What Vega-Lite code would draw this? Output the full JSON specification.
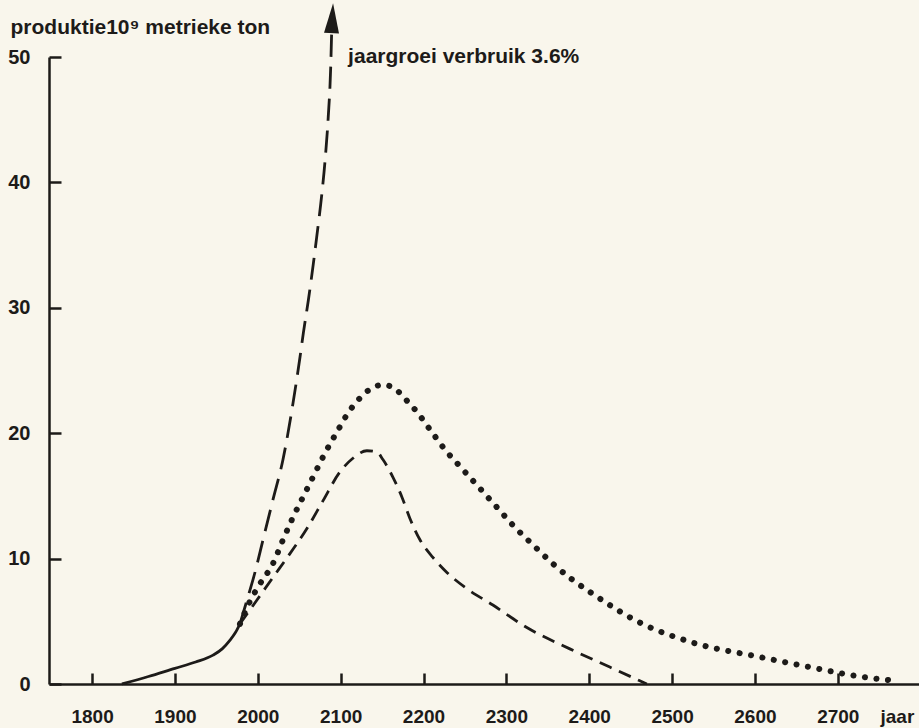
{
  "$schema": "https://vega.github.io/schema/vega-lite/v6.json",
  "width": 870,
  "height": 627,
  "autosize": "none",
  "padding": {"left": 49, "top": 57, "right": 0, "bottom": 44},
  "background": "#f9f6ec",
  "config": {"view": {"stroke": null}, "font": "Liberation Sans"},
  "datasets": {
    "curves": [
      {"series": "solid", "year": 1836, "value": 0},
      {"series": "solid", "year": 1868, "value": 0.6},
      {"series": "solid", "year": 1900, "value": 1.25},
      {"series": "solid", "year": 1925, "value": 1.75},
      {"series": "solid", "year": 1946, "value": 2.3},
      {"series": "solid", "year": 1957, "value": 2.8},
      {"series": "solid", "year": 1966.5, "value": 3.5},
      {"series": "solid", "year": 1973, "value": 4.1},
      {"series": "solid", "year": 1978.5, "value": 4.8},

      {"series": "exp", "year": 1978.5, "value": 4.8},
      {"series": "exp", "year": 1987, "value": 6.7},
      {"series": "exp", "year": 1997, "value": 9.0},
      {"series": "exp", "year": 2006.3, "value": 11.5},
      {"series": "exp", "year": 2018.3, "value": 14.7},
      {"series": "exp", "year": 2030.4, "value": 17.9},
      {"series": "exp", "year": 2042.5, "value": 22.4},
      {"series": "exp", "year": 2051, "value": 26.1},
      {"series": "exp", "year": 2055, "value": 28.0},
      {"series": "exp", "year": 2061, "value": 30.6},
      {"series": "exp", "year": 2067, "value": 33.5},
      {"series": "exp", "year": 2071, "value": 35.6},
      {"series": "exp", "year": 2077, "value": 38.9},
      {"series": "exp", "year": 2081, "value": 41.6},
      {"series": "exp", "year": 2085, "value": 45.2},
      {"series": "exp", "year": 2088, "value": 49.2},
      {"series": "exp", "year": 2089.1, "value": 51.9},

      {"series": "low", "year": 1978.5, "value": 4.8},
      {"series": "low", "year": 1999, "value": 6.7},
      {"series": "low", "year": 2018.3, "value": 8.5},
      {"series": "low", "year": 2038.8, "value": 10.4},
      {"series": "low", "year": 2059.3, "value": 12.4},
      {"series": "low", "year": 2078.6, "value": 14.6},
      {"series": "low", "year": 2099, "value": 16.9},
      {"series": "low", "year": 2114.8, "value": 18.0},
      {"series": "low", "year": 2131.7, "value": 18.6},
      {"series": "low", "year": 2143.8, "value": 18.5},
      {"series": "low", "year": 2151, "value": 17.9},
      {"series": "low", "year": 2163, "value": 16.5},
      {"series": "low", "year": 2174, "value": 14.9},
      {"series": "low", "year": 2183.6, "value": 13.2},
      {"series": "low", "year": 2195.7, "value": 11.5},
      {"series": "low", "year": 2211.3, "value": 10.1},
      {"series": "low", "year": 2228.2, "value": 8.9},
      {"series": "low", "year": 2252.4, "value": 7.6},
      {"series": "low", "year": 2283.7, "value": 6.3},
      {"series": "low", "year": 2324.7, "value": 4.5},
      {"series": "low", "year": 2376.6, "value": 2.8},
      {"series": "low", "year": 2424.8, "value": 1.35},
      {"series": "low", "year": 2469.5, "value": 0},

      {"series": "dot", "year": 1978.5, "value": 4.8},
      {"series": "dot", "year": 1990.6, "value": 6.6},
      {"series": "dot", "year": 2002.7, "value": 8.0},
      {"series": "dot", "year": 2018.3, "value": 9.6},
      {"series": "dot", "year": 2030.4, "value": 11.5},
      {"series": "dot", "year": 2042.5, "value": 13.3},
      {"series": "dot", "year": 2054.5, "value": 14.9},
      {"series": "dot", "year": 2066.6, "value": 16.5},
      {"series": "dot", "year": 2081, "value": 18.4},
      {"series": "dot", "year": 2095.5, "value": 20.1},
      {"series": "dot", "year": 2108.8, "value": 21.6},
      {"series": "dot", "year": 2123.3, "value": 22.8},
      {"series": "dot", "year": 2137.8, "value": 23.6},
      {"series": "dot", "year": 2150, "value": 23.85},
      {"series": "dot", "year": 2162, "value": 23.7},
      {"series": "dot", "year": 2171.5, "value": 23.2},
      {"series": "dot", "year": 2181.2, "value": 22.5},
      {"series": "dot", "year": 2192, "value": 21.7},
      {"series": "dot", "year": 2207.7, "value": 20.3},
      {"series": "dot", "year": 2225.8, "value": 18.7},
      {"series": "dot", "year": 2247.5, "value": 17.1},
      {"series": "dot", "year": 2268, "value": 15.6},
      {"series": "dot", "year": 2288.5, "value": 14.1},
      {"series": "dot", "year": 2310.3, "value": 12.5},
      {"series": "dot", "year": 2332, "value": 11.1},
      {"series": "dot", "year": 2356, "value": 9.6},
      {"series": "dot", "year": 2380, "value": 8.3},
      {"series": "dot", "year": 2404, "value": 7.2},
      {"series": "dot", "year": 2461, "value": 4.9},
      {"series": "dot", "year": 2525, "value": 3.3},
      {"series": "dot", "year": 2606, "value": 2.15},
      {"series": "dot", "year": 2666, "value": 1.35},
      {"series": "dot", "year": 2726, "value": 0.6},
      {"series": "dot", "year": 2771, "value": 0.25}
    ]
  },
  "layer": [
    {
      "data": {"name": "curves"},
      "transform": [{"filter": "datum.series === 'solid'"}],
      "mark": {"type": "line", "interpolate": "monotone", "color": "#1d1b19", "strokeWidth": 2.8},
      "encoding": {
        "x": {
          "field": "year", "type": "quantitative",
          "scale": {"domain": [1748, 2798], "nice": false, "zero": false},
          "axis": {
            "values": [1800, 1900, 2000, 2100, 2200, 2300, 2400, 2500, 2600, 2700],
            "format": "d",
            "grid": false, "tickSize": -11, "tickWidth": 2.5, "tickColor": "#1d1b19",
            "domainColor": "#1d1b19", "domainWidth": 2.5,
            "labelFontSize": 19, "labelFontWeight": "bold", "labelColor": "#1d1b19",
            "labelPadding": 34, "labelFlush": false, "labelOverlap": false,
            "title": "jaar", "titleX": 831, "titleY": 38, "titleAlign": "left",
            "titleBaseline": "alphabetic", "titleFontSize": 19, "titleFontWeight": "bold",
            "titleColor": "#1d1b19"
          }
        },
        "y": {
          "field": "value", "type": "quantitative",
          "scale": {"domain": [0, 50], "nice": false},
          "axis": {
            "values": [0, 10, 20, 30, 40, 50],
            "format": "d",
            "grid": false, "tickSize": -12, "tickWidth": 2.5, "tickColor": "#1d1b19",
            "domainColor": "#1d1b19", "domainWidth": 2.5,
            "labelFontSize": 20, "labelFontWeight": "bold", "labelColor": "#1d1b19",
            "labelPadding": 31, "labelOverlap": false,
            "title": "produktie10⁹ metrieke ton", "titleAngle": 0, "titleX": -39, "titleY": -24,
            "titleAlign": "left", "titleBaseline": "alphabetic", "titleFontSize": 21,
            "titleFontWeight": "bold", "titleColor": "#1d1b19"
          }
        }
      }
    },
    {
      "data": {"name": "curves"},
      "transform": [{"filter": "datum.series === 'exp'"}],
      "mark": {"type": "line", "interpolate": "monotone", "color": "#1d1b19", "strokeWidth": 2.8, "strokeDash": [22, 10]},
      "encoding": {"x": {"field": "year", "type": "quantitative"}, "y": {"field": "value", "type": "quantitative"}}
    },
    {
      "data": {"name": "curves"},
      "transform": [{"filter": "datum.series === 'low'"}],
      "mark": {"type": "line", "interpolate": "monotone", "color": "#1d1b19", "strokeWidth": 2.8, "strokeDash": [13, 8]},
      "encoding": {"x": {"field": "year", "type": "quantitative"}, "y": {"field": "value", "type": "quantitative"}}
    },
    {
      "data": {"name": "curves"},
      "transform": [{"filter": "datum.series === 'dot'"}],
      "mark": {"type": "line", "interpolate": "monotone", "color": "#1d1b19", "strokeWidth": 6, "strokeDash": [0.1, 11.5], "strokeCap": "round"},
      "encoding": {"x": {"field": "year", "type": "quantitative"}, "y": {"field": "value", "type": "quantitative"}}
    },
    {
      "data": {"values": [{"label": "arrow"}]},
      "mark": {"type": "point", "shape": "M0,-1L0.5,1L-0.5,1Z", "size": 900, "filled": true, "color": "#1d1b19", "opacity": 1, "angle": 3},
      "encoding": {"x": {"datum": 2089.9}, "y": {"datum": 53.1}}
    },
    {
      "data": {"values": [{"label": "jaargroei verbruik 3.6%"}]},
      "mark": {"type": "text", "align": "left", "baseline": "alphabetic", "fontSize": 21, "fontWeight": "bold", "color": "#1d1b19", "font": "Liberation Sans"},
      "encoding": {"x": {"datum": 2109}, "y": {"datum": 49.5}, "text": {"field": "label"}}
    }
  ]
}
